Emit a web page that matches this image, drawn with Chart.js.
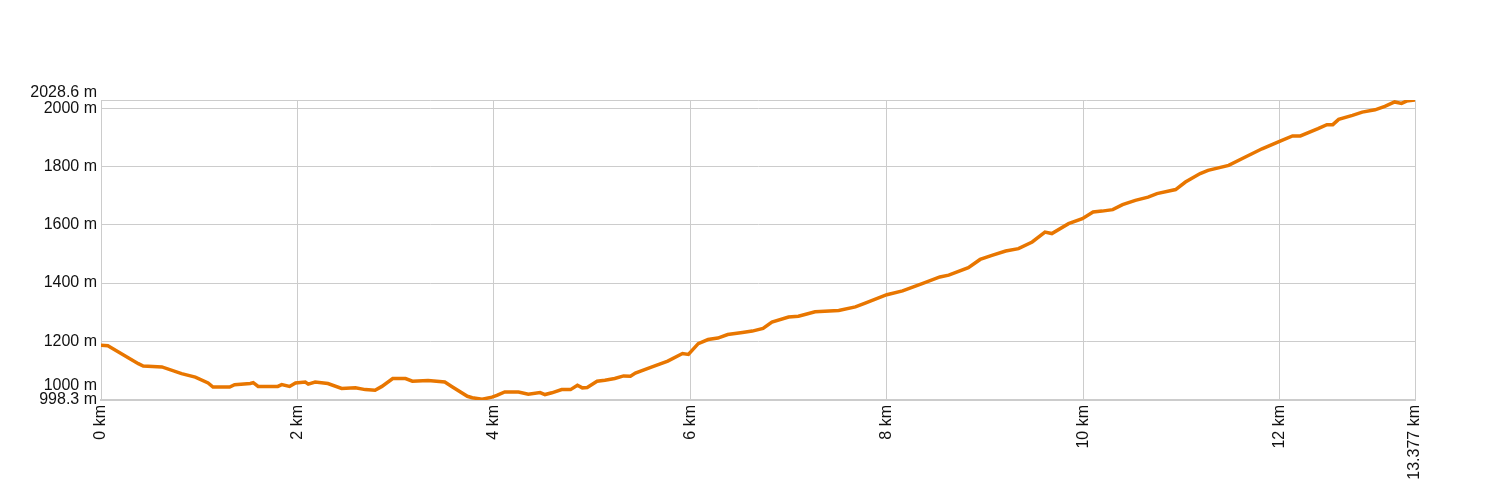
<!DOCTYPE html>
<html>
<head>
<meta charset="utf-8">
<script src="https://cdn.jsdelivr.net/npm/chart.js@4"></script>
<style>
  body { margin: 0; background: #fff; }
</style>
</head>
<body>
<canvas id="perfil" width="1500" height="500"></canvas>
<script>
// distance (km) and elevation (m)
const distKm = [0.00, 0.07, 0.38, 0.43, 0.62, 0.82, 0.96, 1.09, 1.14, 1.31, 1.36, 1.52, 1.55, 1.60, 1.80, 1.84, 1.92, 1.98,
  2.08, 2.11, 2.18, 2.31, 2.45, 2.59, 2.69, 2.79, 2.86, 2.97, 3.10, 3.17, 3.33, 3.50, 3.57, 3.73, 3.78, 3.88, 3.98,
  4.03, 4.11, 4.25, 4.35, 4.47, 4.52, 4.59, 4.69, 4.78, 4.85, 4.90, 4.95, 5.05, 5.13, 5.23, 5.32, 5.39, 5.44, 5.61,
  5.77, 5.92, 5.98, 6.08, 6.18, 6.28, 6.38, 6.53, 6.63, 6.74, 6.83, 7.00, 7.10, 7.27, 7.51, 7.68, 7.78, 8.00, 8.16,
  8.36, 8.54, 8.63, 8.83, 8.95, 9.07, 9.21, 9.34, 9.48, 9.61, 9.68, 9.85, 9.99, 10.10, 10.19, 10.30, 10.40, 10.53,
  10.66, 10.75, 10.94, 11.04, 11.19, 11.27, 11.48, 11.65, 11.82, 12.01, 12.13, 12.21, 12.39, 12.48, 12.54, 12.60,
  12.74, 12.84, 12.97, 13.07, 13.17, 13.24, 13.29, 13.377];
const elevM = [1186, 1185, 1123, 1115, 1112, 1089, 1077, 1057, 1043, 1043, 1051, 1055, 1058, 1045, 1045, 1051, 1045, 1057,
  1060, 1053, 1060, 1055, 1038, 1040, 1034, 1032, 1045, 1072, 1072, 1063, 1065, 1060, 1045, 1011, 1006, 1001, 1008,
  1014, 1026, 1026, 1018, 1024, 1017, 1023, 1034, 1034, 1049, 1040, 1041, 1063, 1066, 1072, 1081, 1080, 1091, 1112,
  1132, 1158, 1155, 1192, 1206, 1211, 1223, 1230, 1235, 1244, 1266, 1283, 1286, 1301, 1306, 1318, 1331, 1360, 1373,
  1398, 1421, 1427, 1453, 1481, 1495, 1510, 1518, 1541, 1575, 1570, 1604, 1621, 1644, 1647, 1652, 1669, 1684,
  1695, 1707, 1721, 1747, 1776, 1787, 1804, 1833, 1861, 1888, 1905, 1905, 1930, 1944, 1944, 1962,
  1976, 1987, 1995, 2007, 2022, 2017, 2025, 2028.6];

const xTicks = [0, 2, 4, 6, 8, 10, 12, 13.377];
const yTicks = [998.3, 1000, 1200, 1400, 1600, 1800, 2000, 2028.6];
const yMin = 998.3;
const yMax = 2028.6;

const puntos = distKm.map((d, i) => ({ x: d, y: elevM[i] }));
const fuente = { family: "'Liberation Sans', Arial, sans-serif", size: 16, lineHeight: '14px' };

const ctx = document.getElementById("perfil").getContext("2d");
const perfil = new Chart(ctx, {
  type: 'line',
  data: {
    datasets: [{
      data: puntos,
      borderColor: 'rgb(232, 118, 0)',
      borderWidth: 3.5,
      pointRadius: 0,
      tension: 0,
      fill: false
    }]
  },
  options: {
    responsive: false,
    animation: false,
    layout: { padding: { top: 100, right: 85, left: 0, bottom: 0 } },
    plugins: { legend: { display: false }, tooltip: { enabled: false } },
    scales: {
      x: {
        type: 'linear',
        min: 0,
        max: 13.377,
        afterBuildTicks: (s) => { s.ticks = xTicks.map(v => ({ value: v })); },
        afterFit: (s) => { s.height = 100; },
        grid: { color: '#cccccc', drawTicks: false },
        border: { color: '#cccccc', width: 2 },
        ticks: {
          autoSkip: false,
          minRotation: 90,
          maxRotation: 90,
          padding: 5,
          color: '#111',
          font: fuente,
          callback: (v) => v + ' km'
        }
      },
      y: {
        min: yMin,
        max: yMax,
        afterBuildTicks: (s) => { s.ticks = yTicks.map(v => ({ value: v })); },
        afterFit: (s) => { s.width = 101; },
        grid: { color: '#cccccc', drawTicks: false },
        border: { color: '#cccccc', width: 1 },
        ticks: {
          autoSkip: false,
          padding: 4,
          color: '#111',
          font: fuente,
          callback: (v) => {
            // labels pushed up so they don't sit on the neighbour
            if (v === 2028.6) return [v + ' m', ''];
            if (v === 1000) return [v + ' m', '', ''];
            return v + ' m';
          }
        }
      }
    }
  }
});
</script>
</body>
</html>
